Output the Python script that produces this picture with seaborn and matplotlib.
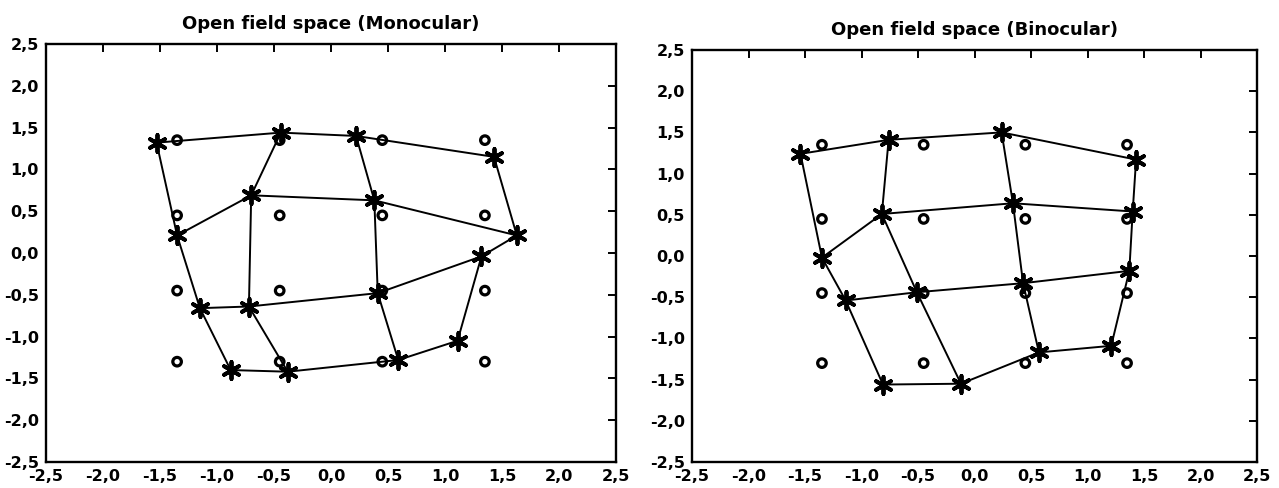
import numpy as np
import pandas as pd
import matplotlib
matplotlib.use("Agg")
import matplotlib.pyplot as plt
from matplotlib.ticker import FuncFormatter
import seaborn as sns

# Reference grid (circles)
grid_x = [-1.35, -0.45, 0.45, 1.35]
grid_y = [1.35, 0.45, -0.45, -1.30]

# Perceived positions (stars), rows top to bottom, columns left to right
mono_x = [[-1.53, -0.44, 0.22, 1.43],
          [-1.35, -0.70, 0.38, 1.63],
          [-1.15, -0.72, 0.41, 1.32],
          [-0.88, -0.38, 0.59, 1.11]]
mono_y = [[1.32, 1.44, 1.40, 1.15],
          [0.21, 0.69, 0.63, 0.21],
          [-0.66, -0.64, -0.48, -0.04],
          [-1.40, -1.42, -1.28, -1.05]]

bino_x = [[-1.54, -0.76, 0.24, 1.43],
          [-1.35, -0.82, 0.34, 1.40],
          [-1.14, -0.51, 0.43, 1.37],
          [-0.81, -0.12, 0.57, 1.21]]
bino_y = [[1.24, 1.41, 1.50, 1.17],
          [-0.02, 0.51, 0.64, 0.54],
          [-0.54, -0.44, -0.33, -0.18],
          [-1.56, -1.55, -1.17, -1.09]]

titles = ["Open field space (Monocular)", "Open field space (Binocular)"]
tick_values = [-2.5, -2.0, -1.5, -1.0, -0.5, 0.0, 0.5, 1.0, 1.5, 2.0, 2.5]

sns.set_style("white")
plt.rcParams["font.family"] = ["DejaVu Sans"]
plt.rcParams["text.color"] = "black"
plt.rcParams["xtick.color"] = "black"
plt.rcParams["ytick.color"] = "black"

fig = plt.figure(figsize=(12.79, 4.88), dpi=100)
W, H = 1279, 488
boxes = [(46, 44, 616, 462), (692, 50, 1257, 462)]


def comma_fmt(v, _pos):
    return f"{v:.1f}".replace(".", ",")


def draw_panel(ax, sx, sy, title):
    sx = np.asarray(sx)
    sy = np.asarray(sy)
    # grid lines through the perceived points: rows and columns
    segs = []
    for i in range(4):
        for j in range(4):
            segs.append({"line": f"r{i}", "order": j, "x": sx[i, j], "y": sy[i, j]})
            segs.append({"line": f"c{j}", "order": i, "x": sx[i, j], "y": sy[i, j]})
    lines = pd.DataFrame(segs).sort_values(["line", "order"])
    sns.lineplot(data=lines, x="x", y="y", units="line", estimator=None,
                 sort=False, color="black", linewidth=1.4, ax=ax, legend=False)

    gx, gy = np.meshgrid(grid_x, grid_y)
    circ = pd.DataFrame({"x": gx.ravel(), "y": gy.ravel()})
    sns.scatterplot(data=circ, x="x", y="y", marker="o", s=38,
                    facecolor="none", edgecolor="black", linewidth=2.3,
                    ax=ax, legend=False, zorder=3)

    stars = pd.DataFrame({"x": sx.ravel(), "y": sy.ravel()})
    sns.scatterplot(data=stars, x="x", y="y", marker=(6, 2, 0), s=150,
                    color="black", edgecolor="black", linewidth=2.8,
                    ax=ax, legend=False, zorder=4)

    ax.set_xlim(-2.5, 2.5)
    ax.set_ylim(-2.5, 2.5)
    ax.set_xticks(tick_values)
    ax.set_yticks(tick_values)
    ax.xaxis.set_major_formatter(FuncFormatter(comma_fmt))
    ax.yaxis.set_major_formatter(FuncFormatter(comma_fmt))
    ax.tick_params(axis="both", which="both", direction="in", length=6,
                   width=1.4, color="black", labelcolor="black", top=True,
                   right=True, labelsize=11.5, pad=5)
    for lab in ax.get_xticklabels() + ax.get_yticklabels():
        lab.set_fontweight("bold")
    for sp in ax.spines.values():
        sp.set_color("black")
        sp.set_linewidth(1.7)
        sp.set_visible(True)
    ax.set_xlabel("")
    ax.set_ylabel("")
    ax.set_title(title, fontsize=13, fontweight="bold", color="black", pad=11)


for (x0, y0, x1, y1), sx, sy, title in zip(boxes, [mono_x, bino_x],
                                            [mono_y, bino_y], titles):
    ax = fig.add_axes([x0 / W, 1 - y1 / H, (x1 - x0) / W, (y1 - y0) / H])
    draw_panel(ax, sx, sy, title)

fig.savefig("out.png", dpi=100, facecolor="white")
